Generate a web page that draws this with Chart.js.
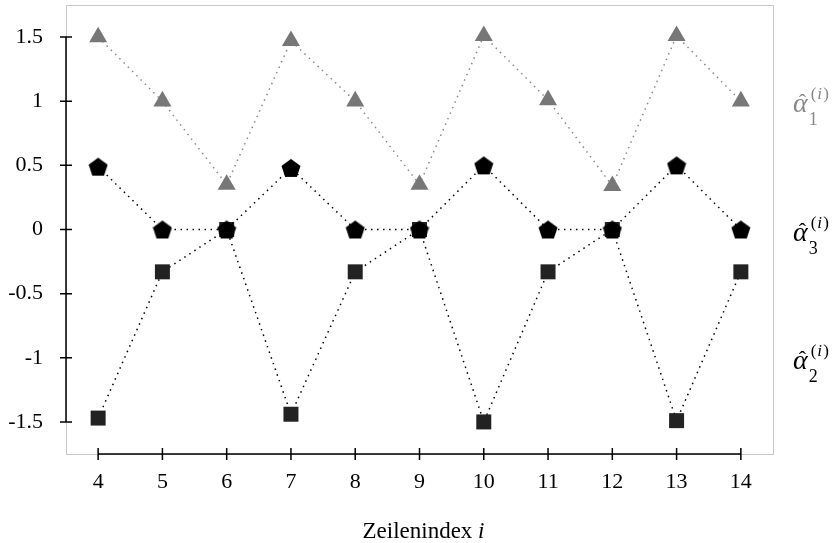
<!DOCTYPE html>
<html>
<head>
<meta charset="utf-8">
<script src="https://cdn.jsdelivr.net/npm/chart.js@4"></script>
<style>
  html, body { margin: 0; padding: 0; background: #fff; }
  #wrap { width: 839px; height: 543px; }
</style>
</head>
<body>
<div id="wrap"><canvas id="chart"></canvas></div>
<script>
// Zeilenindex i
const indices = [4, 5, 6, 7, 8, 9, 10, 11, 12, 13, 14];
// Schätzwerte je Zeile
const alpha1 = [1.50, 1.00, 0.35, 1.47, 1.00, 0.35, 1.51, 1.01, 0.34, 1.51, 1.00];
const alpha2 = [-1.47, -0.33, 0.00, -1.44, -0.33, 0.00, -1.50, -0.33, 0.00, -1.49, -0.33];
const alpha3 = [0.49, 0.00, 0.00, 0.48, 0.00, 0.00, 0.50, 0.00, 0.00, 0.50, 0.00];
const yTicks = [-1.5, -1, -0.5, 0, 0.5, 1, 1.5];
const seriesLabels = [
  { idx: '1', at: 1, color: '#888888' },
  { idx: '3', at: 0, color: '#000000' },
  { idx: '2', at: -1, color: '#000000' }
];

const serif = '"Liberation Serif", "DejaVu Serif", serif';

// Fünfeck als Punktsymbol
function makePentagon(size, color) {
  const c = document.createElement('canvas');
  c.width = size; c.height = size;
  const g = c.getContext('2d');
  const r = size / 2;
  g.fillStyle = color;
  g.beginPath();
  for (let k = 0; k < 5; k++) {
    const a = -Math.PI / 2 + k * 2 * Math.PI / 5;
    const px = r + r * Math.cos(a);
    const py = r + 1 + r * Math.sin(a);
    if (k === 0) g.moveTo(px, py); else g.lineTo(px, py);
  }
  g.closePath();
  g.fill();
  return c;
}

const toXY = arr => arr.map((v, i) => ({ x: indices[i], y: v }));

// Rahmen, Achsen, Striche und Beschriftungen rechts
const decor = {
  id: 'decor',
  beforeDatasetsDraw(chart) {
    const { ctx, chartArea: a, scales: { x, y } } = chart;
    ctx.save();
    ctx.strokeStyle = '#c8c8c8';
    ctx.lineWidth = 1;
    ctx.strokeRect(a.left + 0.5, a.top + 0.5, a.right - a.left, a.bottom - a.top);
    ctx.strokeStyle = '#000';
    ctx.lineWidth = 1.5;
    ctx.beginPath();
    ctx.moveTo(a.left, y.getPixelForValue(yTicks[0]));
    ctx.lineTo(a.left, y.getPixelForValue(yTicks[yTicks.length - 1]));
    ctx.moveTo(x.getPixelForValue(indices[0]), a.bottom);
    ctx.lineTo(x.getPixelForValue(indices[indices.length - 1]), a.bottom);
    yTicks.forEach(v => {
      const py = y.getPixelForValue(v);
      ctx.moveTo(a.left - 6, py); ctx.lineTo(a.left + 6, py);
    });
    indices.forEach(v => {
      const px = x.getPixelForValue(v);
      ctx.moveTo(px, a.bottom - 6); ctx.lineTo(px, a.bottom + 6);
    });
    ctx.stroke();
    ctx.restore();
  },
  afterDraw(chart) {
    const { ctx, chartArea: a, scales: { y } } = chart;
    ctx.save();
    ctx.textBaseline = 'alphabetic';
    seriesLabels.forEach(s => {
      const py = y.getPixelForValue(s.at);
      const bx = 793;
      ctx.fillStyle = s.color;
      ctx.font = 'italic 28px ' + serif;
      ctx.textAlign = 'left';
      const wa = ctx.measureText('α').width;
      ctx.fillText('α', bx, py + 11);
      ctx.font = '22px ' + serif;
      ctx.textAlign = 'center';
      ctx.fillText('ˆ', bx + wa / 2 + 2, py + 8);
      ctx.textAlign = 'left';
      ctx.font = '18px ' + serif;
      ctx.fillText(s.idx, bx + wa + 1, py + 24);
      const sx = bx + wa + 3;
      ctx.font = '17px ' + serif;
      ctx.fillText('(', sx, py - 2);
      ctx.font = 'italic 17px ' + serif;
      ctx.fillText('i', sx + 6.5, py - 2);
      ctx.font = '17px ' + serif;
      ctx.fillText(')', sx + 12.5, py - 2);
    });
    // Achsentitel
    ctx.fillStyle = '#000';
    const t1 = 'Zeilenindex ';
    ctx.font = 'italic 23px ' + serif;
    const wi = ctx.measureText('i').width;
    ctx.font = '23px ' + serif;
    const w1 = ctx.measureText(t1).width;
    const cx = (a.left + a.right) / 2 + 4;
    const sx = cx - (w1 + wi) / 2;
    ctx.textAlign = 'left';
    ctx.fillText(t1, sx, 538);
    ctx.font = 'italic 23px ' + serif;
    ctx.fillText('i', sx + w1, 538);
    ctx.restore();
  }
};

const dotted = { borderWidth: 1.5, borderDash: [1.5, 4.5], showLine: true, tension: 0, pointBorderWidth: 0 };

new Chart(document.getElementById('chart'), {
  type: 'scatter',
  data: {
    datasets: [
      Object.assign({
        label: 'alpha3', data: toXY(alpha3), borderColor: '#000',
        pointStyle: makePentagon(20, '#000'), pointRadius: 10, backgroundColor: '#000'
      }, dotted),
      Object.assign({
        label: 'alpha2', data: toXY(alpha2), borderColor: '#000',
        pointStyle: 'rect', pointRadius: 10.6, backgroundColor: '#222', pointBorderColor: '#222'
      }, dotted),
      Object.assign({
        label: 'alpha1', data: toXY(alpha1), borderColor: '#888',
        pointStyle: 'triangle', pointRadius: 10.4, backgroundColor: '#777', pointBorderColor: '#777'
      }, dotted)
    ]
  },
  plugins: [decor],
  options: {
    responsive: true,
    maintainAspectRatio: false,
    animation: false,
    layout: { autoPadding: false, padding: { left: 0, right: 66, top: 5, bottom: 0 } },
    plugins: { legend: { display: false }, tooltip: { enabled: false } },
    scales: {
      x: {
        type: 'linear', min: 3.5, max: 14.5,
        afterFit: s => { s.height = 89; s.paddingLeft = 0; s.paddingRight = 0; },
        afterBuildTicks: s => { s.ticks = indices.map(v => ({ value: v })); },
        grid: { display: false, drawTicks: false },
        border: { display: false },
        ticks: { color: '#000', padding: 15, font: { family: serif, size: 22 } }
      },
      y: {
        type: 'linear', min: -1.75, max: 1.75,
        afterFit: s => { s.width = 66; s.paddingTop = 0; s.paddingBottom = 0; },
        afterBuildTicks: s => { s.ticks = yTicks.map(v => ({ value: v })); },
        grid: { display: false, drawTicks: false },
        border: { display: false },
        ticks: { color: '#000', padding: 23, font: { family: serif, size: 22 }, callback: v => String(v) }
      }
    }
  }
});
</script>
</body>
</html>
